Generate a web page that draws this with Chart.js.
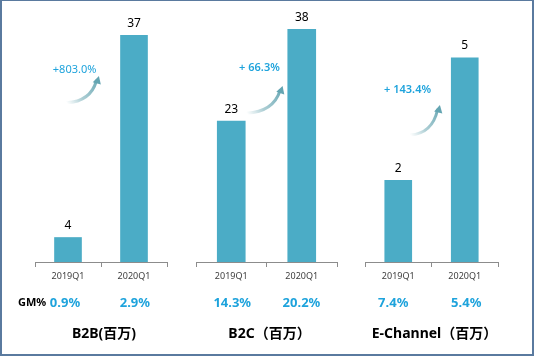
<!DOCTYPE html>
<html><head><meta charset="utf-8">
<script src="https://cdn.jsdelivr.net/npm/chart.js@4/dist/chart.umd.min.js"></script>
<style>
body{margin:0;background:#fff;}
#wrap{position:absolute;left:0;top:0;width:534px;height:356px;}
#frame{position:absolute;left:0;top:0;width:534px;height:356px;box-sizing:border-box;border:2px solid #5a7a9f;border-top-width:1px;pointer-events:none;}
canvas{position:absolute;left:0;top:0;}
</style></head>
<body>
<div id="wrap">
<canvas id="c0" width="534" height="356"></canvas>
<canvas id="c1" width="534" height="356"></canvas>
<canvas id="c2" width="534" height="356"></canvas>
<div id="frame"></div>
</div>
<script>
// ---- data ----
const categories = ['2019Q1', '2020Q1'];
const panelTitles = ['B2B(百万)', 'B2C（百万）', 'E-Channel（百万）'];
const b2bValues = [4, 37];
const b2cValues = [23, 38];
const eChannelValues = [2, 5];
const growthLabels = ['+803.0%', '+ 66.3%', '+ 143.4%'];
const gmB2B = ['0.9%', '2.9%'];
const gmB2C = ['14.3%', '20.2%'];
const gmEChannel = ['7.4%', '5.4%'];
const gmLabel = 'GM%';
const yMaxes = [40, 40, 6];

// ---- layout (styles/positions) ----
const FONT = '"Noto Sans", "Noto Sans CJK SC", sans-serif';
const BLUE = '#1ea3dc';
const axisSpans = [[35, 167], [196, 337], [365, 498]];
const barWidths = [27, 28, 27];
// annotation placement in axis-fraction / value space
const growthPos = [
  {tx: 0.30, tv: 31.3, sx: 0.24, sv: 26.0, ex: 0.48, ev: 30.2, bold: false},
  {tx: 0.45, tv: 31.7, sx: 0.36, sv: 24.3, ex: 0.61, ev: 28.6, bold: true},
  {tx: 0.32, tv: 4.21, sx: 0.34, sv: 3.11, ex: 0.56, ev: 3.82, bold: true}
];
const gmOffsets = [-3, 1, -5];
const seriesList = [b2bValues, b2cValues, eChannelValues];
const gmList = [gmB2B, gmB2C, gmEChannel];

function makePlugin(i) {
  return {
    id: 'deco' + i,
    afterDatasetsDraw(chart) {
      const ctx = chart.ctx;
      const area = chart.chartArea;
      const ys = chart.scales.y;
      const meta = chart.getDatasetMeta(0);
      ctx.save();
      // value labels
      ctx.fillStyle = '#000';
      ctx.font = '12px ' + FONT;
      ctx.textAlign = 'center';
      ctx.textBaseline = 'bottom';
      meta.data.forEach((bar, j) => {
        ctx.fillText(String(seriesList[i][j]), bar.x, bar.y - 6);
      });
      // growth arrow
      const g = growthPos[i];
      const W = area.right - area.left;
      const sx = area.left + g.sx * W, sy = ys.getPixelForValue(g.sv);
      const ex = area.left + g.ex * W, ey = ys.getPixelForValue(g.ev);
      const cx = ex - (ex - sx) * 0.25, cy = sy - (sy - ey) * 0.05;
      const grad = ctx.createLinearGradient(sx, sy, ex, ey);
      grad.addColorStop(0, 'rgba(120,175,185,0)');
      grad.addColorStop(0.35, 'rgba(120,175,185,0.6)');
      grad.addColorStop(1, 'rgba(100,165,178,1)');
      ctx.strokeStyle = grad;
      ctx.lineWidth = 3;
      ctx.lineCap = 'round';
      ctx.beginPath();
      ctx.moveTo(sx, sy);
      ctx.quadraticCurveTo(cx, cy, ex - 2, ey + 4);
      ctx.stroke();
      // arrow head
      const ang = Math.atan2(ey + 4 - cy, ex - 2 - cx);
      const hx = ex, hy = ey + 1;
      ctx.fillStyle = 'rgba(100,165,178,1)';
      ctx.beginPath();
      ctx.moveTo(hx + Math.cos(ang) * 2, hy + Math.sin(ang) * 2);
      ctx.lineTo(hx + Math.cos(ang + 2.5) * 7, hy + Math.sin(ang + 2.5) * 7);
      ctx.lineTo(hx + Math.cos(ang - 2.5) * 7, hy + Math.sin(ang - 2.5) * 7);
      ctx.closePath();
      ctx.fill();
      // growth text
      ctx.fillStyle = BLUE;
      ctx.font = (g.bold ? '600 ' : '400 ') + '11px ' + FONT;
      ctx.textBaseline = 'middle';
      ctx.fillText(growthLabels[i], area.left + g.tx * W, ys.getPixelForValue(g.tv));
      // GM% row
      ctx.font = 'bold 13px ' + FONT;
      meta.data.forEach((bar, j) => {
        ctx.fillText(gmList[i][j], bar.x + gmOffsets[i] * (j === 0 ? 1 : -0.3), 303);
      });
      if (i === 0) {
        ctx.fillStyle = '#000';
        ctx.font = 'bold 11px ' + FONT;
        ctx.textAlign = 'left';
        ctx.fillText(gmLabel, 18, 303);
      }
      // panel title
      ctx.fillStyle = '#000';
      ctx.font = 'bold 14px ' + FONT;
      ctx.textAlign = 'center';
      ctx.fillText(panelTitles[i], (area.left + area.right) / 2 + 3, 334);
      ctx.restore();
    }
  };
}

for (let i = 0; i < 3; i++) {
  const [l, r] = axisSpans[i];
  new Chart(document.getElementById('c' + i), {
    type: 'bar',
    data: {
      labels: categories,
      datasets: [{
        data: seriesList[i],
        backgroundColor: '#4bacc6',
        borderWidth: 0,
        barThickness: barWidths[i]
      }]
    },
    options: {
      responsive: false,
      animation: false,
      events: [],
      layout: {padding: {left: l, right: 534 - r, top: 17, bottom: 64}},
      plugins: {legend: {display: false}, tooltip: {enabled: false}},
      scales: {
        y: {display: false, min: 0, max: yMaxes[i]},
        x: {
          offset: true,
          afterFit(scale) { scale.height = 30; },
          grid: {display: true, offset: true, drawOnChartArea: false, drawTicks: true, tickLength: 5, color: '#8c8c8c'},
          border: {display: true, color: '#8c8c8c'},
          ticks: {color: '#404040', font: {size: 9, family: FONT}, padding: 4, maxRotation: 0}
        }
      }
    },
    plugins: [makePlugin(i)]
  });
}
</script>
</body></html>
